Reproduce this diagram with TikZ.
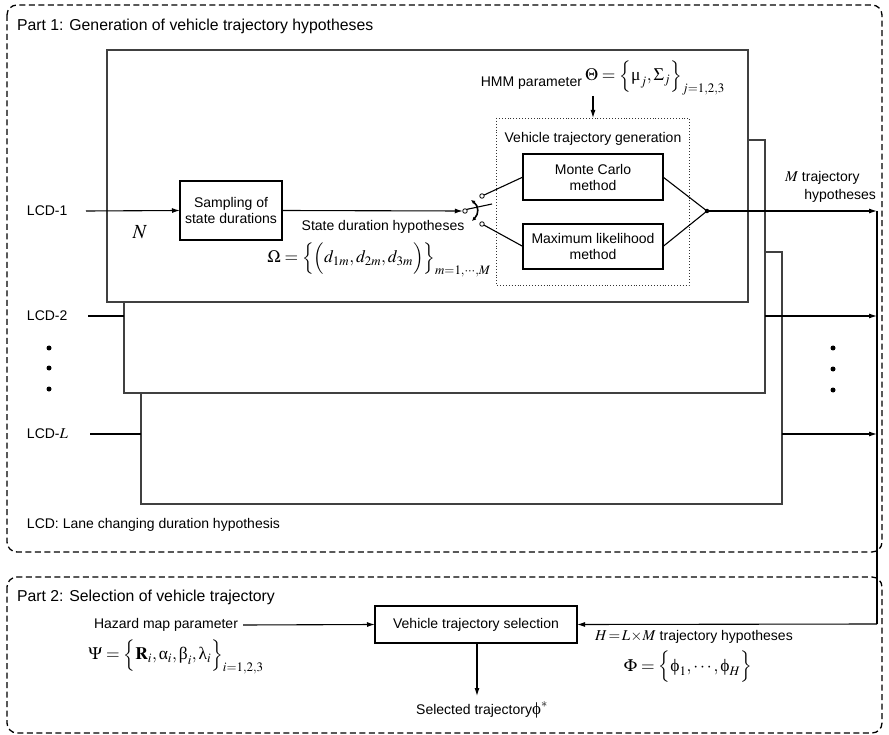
\documentclass[tikz,border=0pt]{standalone}
\usepackage{mathptmx}
\usepackage[no-math]{fontspec}
\setmainfont{Liberation Sans}
\newfontfamily\grkfont{Liberation Serif}
\newcommand{\ug}[1]{\mathord{\mbox{\grkfont #1}}}
\usetikzlibrary{arrows.meta}
\begin{document}
\begin{tikzpicture}[x=1pt,y=-1pt,
  every node/.style={inner sep=0pt, outer sep=0pt},
  txt/.style={font=\fontsize{14}{16}\selectfont},
  head/.style={font=\fontsize{15.8}{18}\selectfont},
  frm/.style={font=\fontsize{17.5}{20}\selectfont},
  partbox/.style={draw, line width=1.3pt, dash pattern=on 6pt off 3.5pt, rounded corners=10pt},
  lanebox/.style={draw=black!75, line width=1.1pt, fill=white},
  procbox/.style={draw, line width=1.8pt, fill=white, align=center, font=\fontsize{14}{16}\selectfont},
  genbox/.style={draw=black!80, line width=0.9pt, dotted},
  wire/.style={line width=1.1pt},
  arr/.style={wire, -{Latex[length=8pt,width=5pt]}},
  dotmark/.style={fill, circle, minimum size=5pt},
  port/.style={draw, fill=white, circle, minimum size=4.5pt, line width=0.8pt}
]
\useasboundingbox (0,0) rectangle (889,735);

% two dashed part frames
\draw[partbox] (7,5) rectangle (882,552);
\draw[partbox] (7,577) rectangle (882,733);
\node[head, anchor=west] (p1title) at (17,26) {Part 1: Generation of vehicle trajectory hypotheses};
\node[head, anchor=west] (p2title) at (17,597) {Part 2: Selection of vehicle trajectory};
\node[txt, anchor=west] (lcdnote) at (27,525) {LCD: Lane changing duration hypothesis};

% stacked lane-change boxes
\node[lanebox, minimum width=641pt, minimum height=252pt] (b3) at (461.5,378) {};
\node[lanebox, minimum width=641pt, minimum height=253pt] (b2) at (444.5,266.5) {};
\node[lanebox, minimum width=641pt, minimum height=252pt] (b1) at (427.5,176) {};

% inputs
\node[txt, anchor=west] (lcd1) at (27,211) {LCD-1};
\node[txt, anchor=west] (lcd2) at (27,316) {LCD-2};
\node[txt, anchor=west] (lcdL) at (27,434) {LCD-{\fontsize{15}{15}\selectfont$L$}};
\node[dotmark] (ld1) at (49,348) {};
\node[dotmark] (ld2) at (49,368) {};
\node[dotmark] (ld3) at (49,389) {};
\node[dotmark] (rd1) at (833,348) {};
\node[dotmark] (rd2) at (833,369) {};
\node[dotmark] (rd3) at (833,390) {};

\node[procbox, minimum width=102pt, minimum height=59pt] (samp) at (231,210.5) {Sampling of\\state durations};
\node[font=\fontsize{20}{20}\selectfont] (nlab) at (140,232) {$N$};
\node[txt] (sdh) at (383,227) {State duration hypotheses};
\node[frm] (omega) at (379,260) {$\Omega=\Bigl\{\Bigl(d_{1m},d_{2m},d_{3m}\Bigr)\Bigr\}_{m=1,\cdots,M}$};

\draw[arr] (86,211) coordinate (l1s) -- (samp.west);
\draw[wire] (88,316) coordinate (l2s) -- (l2s -| b2.west);
\draw[wire] (90,434) coordinate (lLs) -- (lLs -| b3.west);

% switch
\node[port] (sw) at (465,211) {};
\node[port] (swa) at (482,196) {};
\node[port] (swb) at (482,224) {};
\draw[arr] (samp.east) -- (sw.west);
\draw[wire] (sw.north east) -- (492,204) coordinate (lever);
\draw[line width=1.6pt, {Latex[length=4pt,width=4pt]}-{Latex[length=4pt,width=4pt]}]
  (471,200) .. controls (479,206) and (479,214) .. (472,221);

% trajectory generation
\draw[genbox] (496,118) rectangle (689,285);
\node[txt] (genlab) at (593,139) {Vehicle trajectory generation};
\node[procbox, minimum width=140pt, minimum height=46pt] (mc) at (593,177) {Monte Carlo\\method};
\node[procbox, minimum width=140pt, minimum height=45pt] (ml) at (593,246.5) {Maximum likelihood\\method};
\draw[wire] (swa) -- (mc.west);
\draw[wire] (swb) -- (ml.west);
\node[fill, circle, minimum size=4.5pt] (junc) at (707,211) {};
\draw[wire] (mc.east) -- (junc.center);
\draw[wire] (ml.east) -- (junc.center);

\node[txt, anchor=east] (hmm) at (582,83) {HMM parameter};
\node[frm, anchor=west] (theta) at (585,78) {$\Theta=\Bigl\{\ug{μ}_j,\Sigma_j\Bigr\}_{j=1,2,3}$};
\draw[arr] (593,96) coordinate (hmmf) -- (593,118);

% outputs to the collecting line
\coordinate (bustop) at (877,211);
\coordinate (busbot) at (877,624);
\draw[arr] (junc.center) -- (bustop);
\draw[arr] (b2.east |- l2s) -- (bustop |- l2s);
\draw[arr] (b3.east |- lLs) -- (bustop |- lLs);
\node[txt, anchor=west] (mtraj) at (785,178) {{\fontsize{15}{15}\selectfont$M$} trajectory};
\node[txt, anchor=east] (mhyp) at (876,196) {hypotheses};

% part 2
\node[procbox, minimum width=202pt, minimum height=37pt] (sel) at (476,624.5) {Vehicle trajectory selection};
\draw[wire] (bustop) -- (busbot);
\draw[arr] (busbot) -- (sel.east);
\node[txt] (hazard) at (166,625) {Hazard map parameter};
\draw[arr] (243,625) coordinate (hzs) -- (sel.west);
\node[frm] (psi) at (176,657) {$\Psi=\Bigl\{\mathbf{R}_i,\ug{α}_i,\ug{β}_i,\ug{λ}_i\Bigr\}_{i=1,2,3}$};
\node[txt, anchor=west] (hlm) at (595,637) {{\fontsize{15}{15}\selectfont$H\!=\!L\!\times\!M$} trajectory hypotheses};
\node[frm] (phiset) at (688,667) {$\Phi=\Bigl\{\ug{ϕ}_1,\cdots,\ug{ϕ}_H\Bigr\}$};
\node[txt] (seltr) at (482,710) {Selected trajectory{\fontsize{17}{17}\selectfont$\ug{ϕ}^{*}$}};
\draw[arr] (sel.south -| 477,0) -- (477,696);
\end{tikzpicture}
\end{document}
